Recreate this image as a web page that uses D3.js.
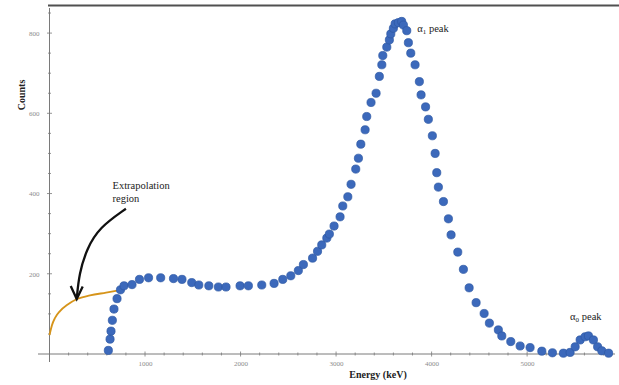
<!DOCTYPE html>
<html><head><meta charset="utf-8">
<script src="https://cdn.jsdelivr.net/npm/d3@7/dist/d3.min.js"></script>
<style>html,body{margin:0;padding:0;background:#fff;}svg{display:block;}</style>
</head><body>
<svg id="c" width="619" height="385"></svg>
<script>
// ---- data ----
const energy = [616,634,644,658,675,707,743,780,864,942,1037,1164,1298,1387,1489,1563,1668,1768,1848,1995,2082,2222,2351,2442,2526,2605,2658,2754,2806,2850,2903,2930,2979,3042,3070,3123,3157,3206,3234,3259,3304,3321,3366,3419,3453,3479,3489,3531,3558,3573,3600,3618,3652,3687,3705,3740,3757,3782,3827,3872,3890,3937,3966,4008,4037,4054,4071,4124,4176,4204,4274,4333,4393,4466,4550,4605,4699,4735,4829,4927,5031,5154,5265,5380,5450,5503,5555,5607,5642,5694,5738,5782,5853];
const counts = [9,37,57,84,112,138,160,170,173,186,190,190,188,186,178,172,170,167,167,170,170,172,176,186,195,208,223,239,256,272,289,299,319,342,369,392,423,461,488,523,559,592,627,650,692,721,744,765,783,798,812,823,826,829,820,806,776,750,721,679,646,616,585,544,500,452,416,380,337,297,254,211,165,128,101,77,60,45,31,20,16,7,3,2,4,18,35,43,45,35,18,8,2];
const extrapEnergy = [0,26,58,110,183,288,424,592,759];
const extrapCounts = [47,72,90,107,122,137,146,153,160];
const xMajorTicks = [1000,2000,3000,4000,5000];
const yMajorTicks = [200,400,600,800];
const xMinorStep = 200, yMinorStep = 50;
const xTitle = "Energy (keV)", yTitle = "Counts";
// annotation anchors (data units)
const arrowPath = [[800,362],[520,315],[390,262],[310,200],[285,137]];

const svg = d3.select("#c");
const x = d3.scaleLinear().domain([0,5920]).range([49.5,615]);
const y = d3.scaleLinear().domain([0,870]).range([354,5]);
const serif = "'Liberation Serif','DejaVu Serif',serif";

// top border
svg.append("line").attr("x1",48).attr("x2",619).attr("y1",5.5).attr("y2",5.5)
  .attr("stroke","#505050").attr("stroke-width",2);

// axes lines
svg.append("line").attr("x1",38).attr("x2",615).attr("y1",y(0)).attr("y2",y(0)).attr("stroke","#7a7a7a").attr("stroke-width",1);
svg.append("line").attr("x1",x(0)).attr("x2",x(0)).attr("y1",8).attr("y2",362).attr("stroke","#7a7a7a").attr("stroke-width",1);

// minor ticks
const xt = d3.range(xMinorStep, 5900, xMinorStep);
svg.append("g").selectAll("line").data(xt).join("line")
  .attr("x1",d=>x(d)).attr("x2",d=>x(d))
  .attr("y1",d=>y(0)-(d%1000===0?2.5:1.5)).attr("y2",d=>y(0)+(d%1000===0?2.5:1.5))
  .attr("stroke","#7a7a7a").attr("stroke-width",0.8);
const yt = d3.range(yMinorStep, 870, yMinorStep);
svg.append("g").selectAll("line").data(yt).join("line")
  .attr("y1",d=>y(d)).attr("y2",d=>y(d))
  .attr("x1",d=>x(0)-(d%200===0?2.5:1.5)).attr("x2",d=>x(0)+(d%200===0?2.5:1.5))
  .attr("stroke","#7a7a7a").attr("stroke-width",0.8);

// tick labels via d3 axes
const gx = svg.append("g").attr("transform",`translate(0,${y(0)+4})`)
  .call(d3.axisBottom(x).tickValues(xMajorTicks).tickSize(0).tickFormat(d3.format("d")));
gx.select(".domain").remove();
gx.selectAll("text").attr("font-family",serif).attr("font-size",7).attr("fill","#8c8c8c");
const gy = svg.append("g").attr("transform",`translate(${x(0)-7},0)`)
  .call(d3.axisLeft(y).tickValues(yMajorTicks).tickSize(0).tickFormat(d3.format("d")));
gy.select(".domain").remove();
gy.selectAll("text").attr("font-family",serif).attr("font-size",7).attr("fill","#8c8c8c");

// extrapolation curve
const pts = extrapEnergy.map((e,i)=>[e,extrapCounts[i]]);
svg.append("path").datum(pts)
  .attr("d",d3.line().x(d=>x(d[0])).y(d=>y(d[1])).curve(d3.curveMonotoneX))
  .attr("fill","none").attr("stroke","#d6941a").attr("stroke-width",1.8);

// points
const data = energy.map((e,i)=>({e,c:counts[i]}));
svg.append("g").selectAll("circle").data(data).join("circle")
  .attr("cx",d=>x(d.e)).attr("cy",d=>y(d.c)).attr("r",4.1)
  .attr("fill","#3c69bb").attr("stroke","#2d57a3").attr("stroke-width",0.7);

// arrow annotation
svg.append("path").datum(arrowPath)
  .attr("d",d3.line().x(d=>x(d[0])).y(d=>y(d[1])).curve(d3.curveBasis))
  .attr("fill","none").attr("stroke","#111").attr("stroke-width",2.3);
const tip = arrowPath[arrowPath.length-1];
const tx = x(tip[0]), ty = y(tip[1]);
svg.append("path").attr("d",`M${tx-6},${ty-13}L${tx},${ty}L${tx+6},${ty-12.5}`)
  .attr("fill","none").attr("stroke","#111").attr("stroke-width",2.3).attr("stroke-linejoin","miter");

// annotation texts
svg.append("text").attr("x",x(660)).attr("y",y(412)).text("Extrapolation")
  .attr("font-family",serif).attr("font-size",10.5).attr("fill","#222");
svg.append("text").attr("x",x(660)).attr("y",y(378)).text("region")
  .attr("font-family",serif).attr("font-size",10.5).attr("fill","#222");
const a1 = svg.append("text").attr("x",x(3850)).attr("y",y(802))
  .attr("font-family",serif).attr("font-size",10.5).attr("fill","#222");
a1.append("tspan").text("α");
a1.append("tspan").text("1").attr("font-size",7).attr("dy",2);
a1.append("tspan").text(" peak").attr("dy",-2);
const a0 = svg.append("text").attr("x",x(5450)).attr("y",y(85))
  .attr("font-family",serif).attr("font-size",10.5).attr("fill","#222");
a0.append("tspan").text("α");
a0.append("tspan").text("0").attr("font-size",7).attr("dy",2);
a0.append("tspan").text(" peak").attr("dy",-2);

// axis titles
svg.append("text").attr("x",378).attr("y",378).attr("text-anchor","middle").text(xTitle)
  .attr("font-family",serif).attr("font-weight","bold").attr("font-size",10).attr("fill","#222");
svg.append("text").attr("transform","translate(25,95) rotate(-90)").attr("text-anchor","middle").text(yTitle)
  .attr("font-family",serif).attr("font-weight","bold").attr("font-size",10).attr("fill","#222");
</script>
</body></html>
